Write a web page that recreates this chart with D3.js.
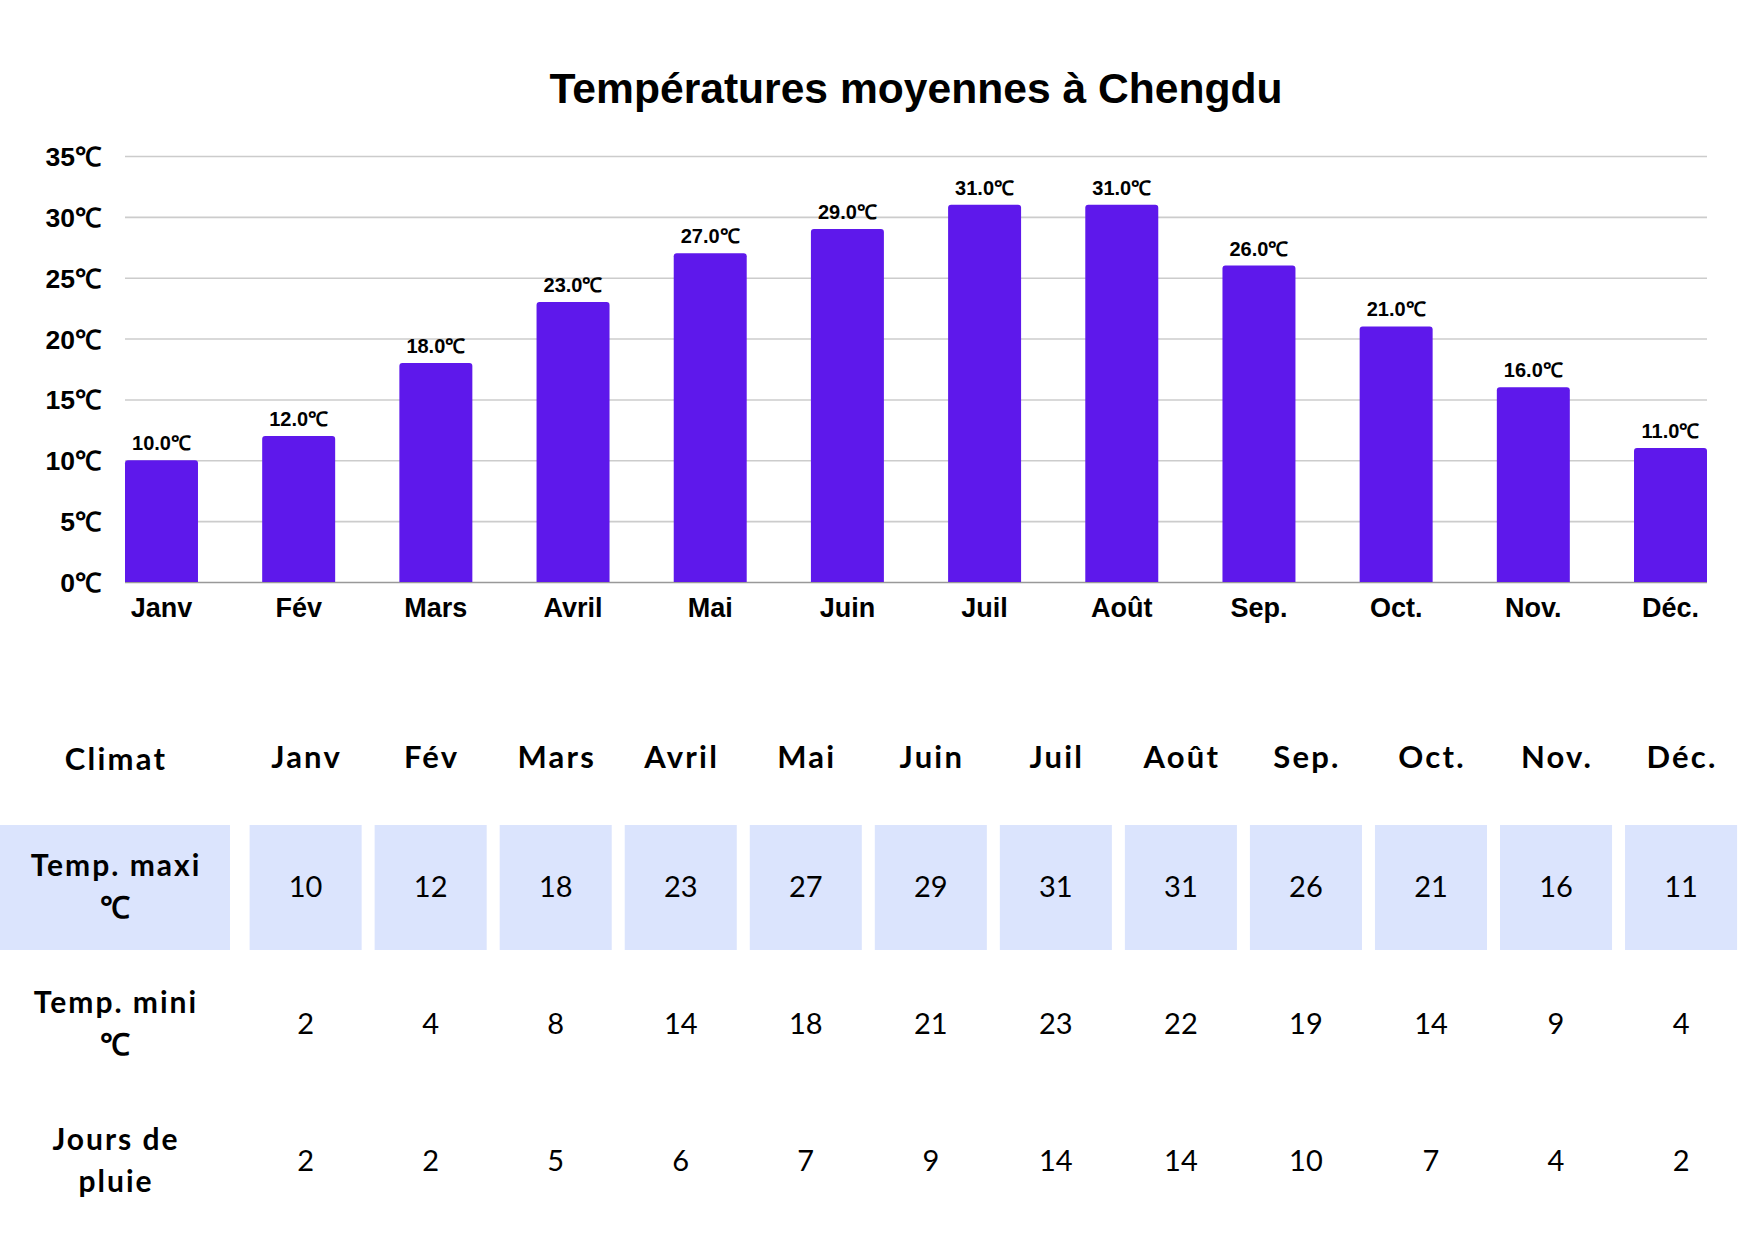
<!DOCTYPE html>
<html>
<head>
<meta charset="utf-8">
<script src="https://cdn.jsdelivr.net/npm/d3@7"></script>
<style>
  html, body { margin: 0; padding: 0; background: #ffffff; }
  svg { display: block; }
</style>
</head>
<body>
<svg id="chart" width="1748" height="1240"></svg>
<script>
// ---------- DATA ----------
const title = "Températures moyennes à Chengdu";
const months = ["Janv", "Fév", "Mars", "Avril", "Mai", "Juin", "Juil", "Août", "Sep.", "Oct.", "Nov.", "Déc."];
const tempMax = [10, 12, 18, 23, 27, 29, 31, 31, 26, 21, 16, 11];
const tempMin = [2, 4, 8, 14, 18, 21, 23, 22, 19, 14, 9, 4];
const rainDays = [2, 2, 5, 6, 7, 9, 14, 14, 10, 7, 4, 2];
const yTicks = [0, 5, 10, 15, 20, 25, 30, 35];
const tableHeader = "Climat";
const rowLabels = [["Temp. maxi", "℃"], ["Temp. mini", "℃"], ["Jours de", "pluie"]];
const unit = "℃";

// ---------- STYLE ----------
const barColor = "#5e18eb";
const shadeColor = "#dbe4fd";
const chartFont = "'Liberation Sans', Arial, sans-serif";
const tableFont = "Lato, 'Open Sans', sans-serif";

const svg = d3.select("#chart");

// ---------- BAR CHART ----------
const x = d3.scaleBand().domain(months).range([125, 1707]).paddingInner(0.468).paddingOuter(0);
const y = d3.scaleLinear().domain([0, 35]).range([582, 156]);

svg.append("text")
  .attr("x", 916).attr("y", 103)
  .attr("text-anchor", "middle")
  .attr("font-family", chartFont).attr("font-weight", "bold").attr("font-size", 42.6)
  .attr("fill", "#000")
  .text(title);

// gridlines
svg.append("g").selectAll("line").data(yTicks).join("line")
  .attr("x1", 125).attr("x2", 1707)
  .attr("y1", d => y(d) + 0.5).attr("y2", d => y(d) + 0.5)
  .attr("stroke", d => d === 0 ? "#999999" : "#cccccc")
  .attr("stroke-width", 1.6);

// y axis labels
const yAxis = d3.axisLeft(y).tickValues(yTicks).tickSize(0).tickPadding(0).tickFormat(d => d + unit);
svg.append("g").attr("transform", "translate(101,0)").call(yAxis)
  .call(g => g.select(".domain").remove())
  .call(g => g.selectAll("text")
    .attr("font-family", chartFont).attr("font-weight", "bold").attr("font-size", 26.5)
    .attr("fill", "#000").attr("dy", "0.36em"));

// bars with rounded top corners
const r = 3;
function barPath(d, i) {
  const x0 = x(months[i]), w = x.bandwidth(), yt = y(d), yb = y(0);
  return `M${x0},${yb}V${yt + r}Q${x0},${yt} ${x0 + r},${yt}H${x0 + w - r}Q${x0 + w},${yt} ${x0 + w},${yt + r}V${yb}Z`;
}
svg.append("g").selectAll("path").data(tempMax).join("path")
  .attr("d", barPath)
  .attr("fill", barColor);

// value labels
svg.append("g").selectAll("text").data(tempMax).join("text")
  .attr("x", (d, i) => x(months[i]) + x.bandwidth() / 2)
  .attr("y", d => y(d) - 10)
  .attr("text-anchor", "middle")
  .attr("font-family", chartFont).attr("font-weight", "bold").attr("font-size", 20)
  .attr("fill", "#000")
  .text(d => d.toFixed(1) + unit);

// x axis labels
const xAxis = d3.axisBottom(x).tickSize(0).tickPadding(0);
svg.append("g").attr("transform", "translate(0,617)").call(xAxis)
  .call(g => g.select(".domain").remove())
  .call(g => g.selectAll("text")
    .attr("font-family", chartFont).attr("font-weight", "bold").attr("font-size", 27)
    .attr("fill", "#000").attr("dy", 0));

// ---------- TABLE ----------
const colStep = 125.04, colGap = 13;
const cols = d3.scaleBand().domain(months)
  .range([249.6, 249.6 + colStep * (12 - colGap / colStep)])
  .paddingInner(colGap / colStep).paddingOuter(0);
const rowStep = 137, rowGap = 12;
const rowsY = d3.scaleBand().domain([0, 1, 2])
  .range([825, 825 + rowStep * (3 - rowGap / rowStep)])
  .paddingInner(rowGap / rowStep).paddingOuter(0);
const labelCol = { x0: 0, x1: 230 };
const rowData = [tempMax, tempMin, rainDays];

const table = svg.append("g").attr("font-family", tableFont).attr("fill", "#000");

// header row
table.append("text")
  .attr("x", (labelCol.x0 + labelCol.x1) / 2 + 1).attr("y", 770)
  .attr("text-anchor", "middle").attr("font-weight", "bold").attr("font-size", 31)
  .attr("letter-spacing", 2.2)
  .text(tableHeader);
table.append("g").selectAll("text").data(months).join("text")
  .attr("x", d => cols(d) + cols.bandwidth() / 2 + 1).attr("y", 768)
  .attr("text-anchor", "middle").attr("font-weight", "bold").attr("font-size", 31)
  .attr("letter-spacing", 2.2)
  .text(d => d);

// shaded first data row
table.append("rect")
  .attr("x", labelCol.x0).attr("y", rowsY(0))
  .attr("width", labelCol.x1 - labelCol.x0).attr("height", rowsY.bandwidth())
  .attr("fill", shadeColor);
table.append("g").selectAll("rect").data(months).join("rect")
  .attr("x", d => cols(d)).attr("y", rowsY(0))
  .attr("width", cols.bandwidth()).attr("height", rowsY.bandwidth())
  .attr("fill", shadeColor);

// row labels
rowLabels.forEach((lines, ri) => {
  const cy = rowsY(ri) + rowsY.bandwidth() / 2;
  const t = table.append("text")
    .attr("text-anchor", "middle").attr("font-weight", "bold").attr("font-size", 30)
    .attr("letter-spacing", 2);
  lines.forEach((ln, li) => {
    t.append("tspan")
      .attr("x", (labelCol.x0 + labelCol.x1) / 2 + 1)
      .attr("y", cy - 12 + li * 42)
      .text(ln);
  });
});

// values
rowData.forEach((vals, ri) => {
  const cy = rowsY(ri) + rowsY.bandwidth() / 2;
  table.append("g").selectAll("text").data(vals).join("text")
    .attr("x", (d, i) => cols(months[i]) + cols.bandwidth() / 2)
    .attr("y", cy + 9)
    .attr("text-anchor", "middle").attr("font-size", 29).attr("font-weight", 400)
    .text(d => d);
});
</script>
</body>
</html>
